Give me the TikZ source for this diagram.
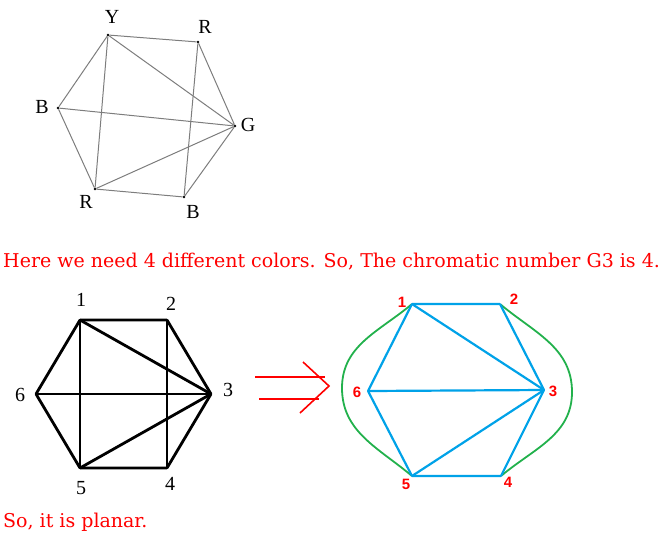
\documentclass[tikz,border=0pt]{standalone}
\usepackage{fontspec}
\setmainfont{Liberation Serif}
\newfontfamily\numfont{Liberation Sans}
\newfontfamily\remarkfont{DejaVu Serif}
\usetikzlibrary{positioning}
\definecolor{textred}{RGB}{255,0,0}
\definecolor{edgeblue}{RGB}{0,162,232}
\definecolor{curvegreen}{RGB}{34,177,76}
\definecolor{lightgray}{RGB}{125,125,125}

\begin{document}
\begin{tikzpicture}[x=1pt, y=-1pt,
    dot/.style={circle, fill=black, inner sep=0pt, minimum size=2.6pt},
    vtx/.style={inner sep=0pt, minimum size=0pt},
    graylink/.style={draw=lightgray, line width=1pt},
    blacklink/.style={draw=black, line width=2.8pt, line join=round, line cap=round},
    bluelink/.style={draw=edgeblue, line width=2.2pt, line cap=round, line join=round},
    greenlink/.style={draw=curvegreen, line width=1.8pt},
    letter/.style={inner sep=0pt, font=\fontsize{20}{22}\selectfont},
    number/.style={inner sep=0pt, textred, font=\numfont\bfseries\fontsize{15}{17}\selectfont},
    remark/.style={inner sep=0pt, anchor=west, textred, font=\remarkfont\fontsize{19}{22}\selectfont}]
  \useasboundingbox (0,0) rectangle (668,536);

  % first graph, coloured vertices
  \node[dot] (yt) at (108,35) {};
  \node[dot] (rt) at (198,42) {};
  \node[dot] (g)  at (235,126) {};
  \node[dot] (bb) at (184,197) {};
  \node[dot] (rb) at (95,189) {};
  \node[dot] (bl) at (58,108) {};
  \node[letter] at (112,17) {Y};
  \node[letter] at (205,27) {R};
  \node[letter] at (248,125) {G};
  \node[letter] at (193,212) {B};
  \node[letter] at (86,202) {R};
  \node[letter] at (42,107) {B};
  \draw[graylink] (yt) -- (rt) -- (g) -- (bb) -- (rb) -- (bl) -- (yt);
  \draw[graylink] (yt) -- (rb);
  \draw[graylink] (rt) -- (bb);
  \draw[graylink] (yt) -- (g);
  \draw[graylink] (bl) -- (g);
  \draw[graylink] (rb) -- (g);

  \node[remark] (note) at (3,262) {Here we need 4 different colors. So, The chromatic number G3 is 4.};

  % second graph
  \node[vtx] (a1) at (80,320) {};
  \node[vtx] (a2) at (167,320) {};
  \node[vtx] (a3) at (211,394) {};
  \node[vtx] (a4) at (167,468) {};
  \node[vtx] (a5) at (80,468) {};
  \node[vtx] (a6) at (36,394) {};
  \node[letter] at (81,300) {1};
  \node[letter] at (171,304) {2};
  \node[letter] at (228,390) {3};
  \node[letter] at (170,484) {4};
  \node[letter] at (81,488) {5};
  \node[letter] at (20,395) {6};
  \draw[blacklink] (a1) -- (a2) -- (a3) -- (a4) -- (a5) -- (a6) -- (a1);
  \draw[blacklink] (a1) -- (a5);
  \draw[blacklink] (a2) -- (a4);
  \draw[blacklink] (a1) -- (a3);
  \draw[blacklink] (a6) -- (a3);
  \draw[blacklink] (a5) -- (a3);

  % arrow
  \coordinate (tip) at (329,386);
  \draw[textred, line width=1.6pt] (255,377) -- (325,377);
  \draw[textred, line width=1.6pt] (259,399) -- (319,399);
  \draw[textred, line width=1.6pt] (303,362) -- (tip) -- (300,413);

  % planar drawing
  \node[vtx] (p1) at (412,304) {};
  \node[vtx] (p2) at (500,304) {};
  \node[vtx] (p3) at (544,390) {};
  \node[vtx] (p4) at (501,476) {};
  \node[vtx] (p5) at (412,476) {};
  \node[vtx] (p6) at (368,391) {};
  \node[number] at (402,302) {1};
  \node[number] at (514,299) {2};
  \node[number] at (553,391) {3};
  \node[number] at (508,482) {4};
  \node[number] at (406,484) {5};
  \node[number] at (357,392) {6};
  \coordinate (west) at (342,388);
  \coordinate (east) at (572,392);
  \draw[greenlink] (p1) to[out=220, in=90] (west) to[out=270, in=140] (p5);
  \draw[greenlink] (p2) to[out=-40, in=90] (east) to[out=270, in=40] (p4);
  \draw[bluelink] (p1) -- (p2) -- (p3) -- (p4) -- (p5) -- (p6) -- (p1);
  \draw[bluelink] (p1) -- (p3);
  \draw[bluelink] (p6) -- (p3);
  \draw[bluelink] (p5) -- (p3);

  \node[remark] (verdict) at (3,522) {So, it is planar.};
\end{tikzpicture}
\end{document}
